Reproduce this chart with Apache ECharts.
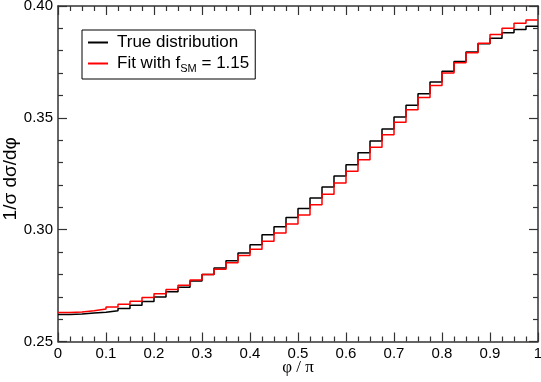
<!DOCTYPE html>
<html><head><meta charset="utf-8">
<script src="https://cdn.jsdelivr.net/npm/echarts@6/dist/echarts.min.js"></script>
<style>html,body{margin:0;padding:0;background:#fff}#c{width:541px;height:382px}</style>
</head><body><div id="c"></div>
<script>
// Bin left edges (phi/pi), 40 bins of width 0.025
const binWidth = 0.025;
const trueDist = [0.2621,0.2623,0.2627,0.2631,0.2637,0.2648,0.2662,0.2679,0.2699,0.2722,
  0.2743,0.2771,0.2799,0.2829,0.2861,0.2896,0.2933,0.2977,0.3013,0.3054,
  0.3095,0.3142,0.3191,0.3240,0.3290,0.3344,0.3396,0.3450,0.3504,0.3556,
  0.3608,0.3660,0.3708,0.3752,0.3794,0.3831,0.3856,0.3880,0.3895,0.3910];
const fitDist = [0.2630,0.2632,0.2638,0.2645,0.2654,0.2666,0.2680,0.2697,0.2714,0.2733,
  0.2752,0.2775,0.2800,0.2823,0.2852,0.2884,0.2913,0.2948,0.2985,0.3025,
  0.3066,0.3111,0.3158,0.3209,0.3261,0.3313,0.3368,0.3424,0.3480,0.3536,
  0.3591,0.3645,0.3700,0.3746,0.3791,0.3834,0.3873,0.3901,0.3923,0.3937];
const xTicks = [0,0.1,0.2,0.3,0.4,0.5,0.6,0.7,0.8,0.9,1];
const yTicks = [0.25,0.30,0.35,0.40];

function stepData(vals){
  const d = vals.map((v,i)=>[+(i*binWidth).toFixed(4), v]);
  d.push([+(vals.length*binWidth).toFixed(4), vals[vals.length-1]]);
  return d;
}
const axisColor = '#333';
const fontFam = 'Liberation Sans, Arial, sans-serif';
function xa(pos, show){
  return {type:'value', position:pos, min:xTicks[0], max:xTicks[xTicks.length-1], interval:0.1,
    axisLine:{show:true, onZero:false, lineStyle:{color:axisColor,width:1.5}},
    axisTick:{show:true, inside:true, length:9, lineStyle:{color:axisColor,width:1.2}},
    minorTick:{show:true, splitNumber:4, length:5, lineStyle:{color:axisColor,width:1.2}},
    splitLine:{show:false},
    axisLabel:{show:show, color:'#000', fontSize:15, fontFamily:fontFam, margin:5,
      formatter:v=>String(+v.toFixed(1))},
    name: show ? 'φ / π' : '', nameLocation:'middle', nameGap:18, nameMoveOverlap:false,
    nameTextStyle:{color:'#000', fontSize:17, fontFamily:'Liberation Serif, serif'}};
}
function ya(pos, show){
  return {type:'value', position:pos, min:yTicks[0], max:yTicks[yTicks.length-1], interval:0.05,
    axisLine:{show:true, onZero:false, lineStyle:{color:axisColor,width:1.5}},
    axisTick:{show:true, inside:true, length:9, lineStyle:{color:axisColor,width:1.2}},
    minorTick:{show:true, splitNumber:5, length:5, lineStyle:{color:axisColor,width:1.2}},
    splitLine:{show:false},
    axisLabel:{show:show, color:'#000', fontSize:15, fontFamily:fontFam, margin:5,
      formatter:v=>v.toFixed(2)},
    name: show ? '1/σ dσ/dφ' : '', nameLocation:'middle', nameGap:38, nameRotate:90, nameMoveOverlap:false,
    nameTextStyle:{color:'#000', fontSize:19, fontFamily:fontFam, padding:[0,10,0,0]}};
}
const chart = echarts.init(document.getElementById('c'), null, {renderer:'canvas'});
chart.setOption({
  animation:false,
  backgroundColor:'#fff',
  grid:{left:58, right:3, top:6, bottom:40.5, containLabel:false, outerBoundsMode:'none'},
  xAxis:[xa('bottom',true), xa('top',false)],
  yAxis:[ya('left',true), ya('right',false)],
  legend:{
    orient:'vertical', left:82, top:30, itemWidth:20, itemHeight:14, itemGap:4,
    padding:[4,6,5,5], borderColor:'#000', borderWidth:1,
    itemStyle:{opacity:0},
    textStyle:{color:'#000', fontSize:17, fontFamily:fontFam, padding:[0,0,0,4],
      rich:{a:{fontSize:17, fontFamily:fontFam, color:'#000'},
            s:{fontSize:11, fontFamily:fontFam, color:'#000', padding:[10,0,0,0]}}},
    formatter: n => n === 'True distribution' ? '{a|True distribution}' : '{a|Fit with f}{s|SM}{a| = 1.15}',
    data:['True distribution','Fit with f_SM = 1.15']
  },
  series:[
    {name:'True distribution', type:'line', step:'end', data:stepData(trueDist), symbol:'none',
     xAxisIndex:0, yAxisIndex:0, lineStyle:{color:'#000', width:1.5}, itemStyle:{color:'#000'}},
    {name:'Fit with f_SM = 1.15', type:'line', step:'end', data:stepData(fitDist), symbol:'none',
     xAxisIndex:0, yAxisIndex:0, lineStyle:{color:'#ff0000', width:1.5}, itemStyle:{color:'#ff0000'}}
  ]
});
</script></body></html>
